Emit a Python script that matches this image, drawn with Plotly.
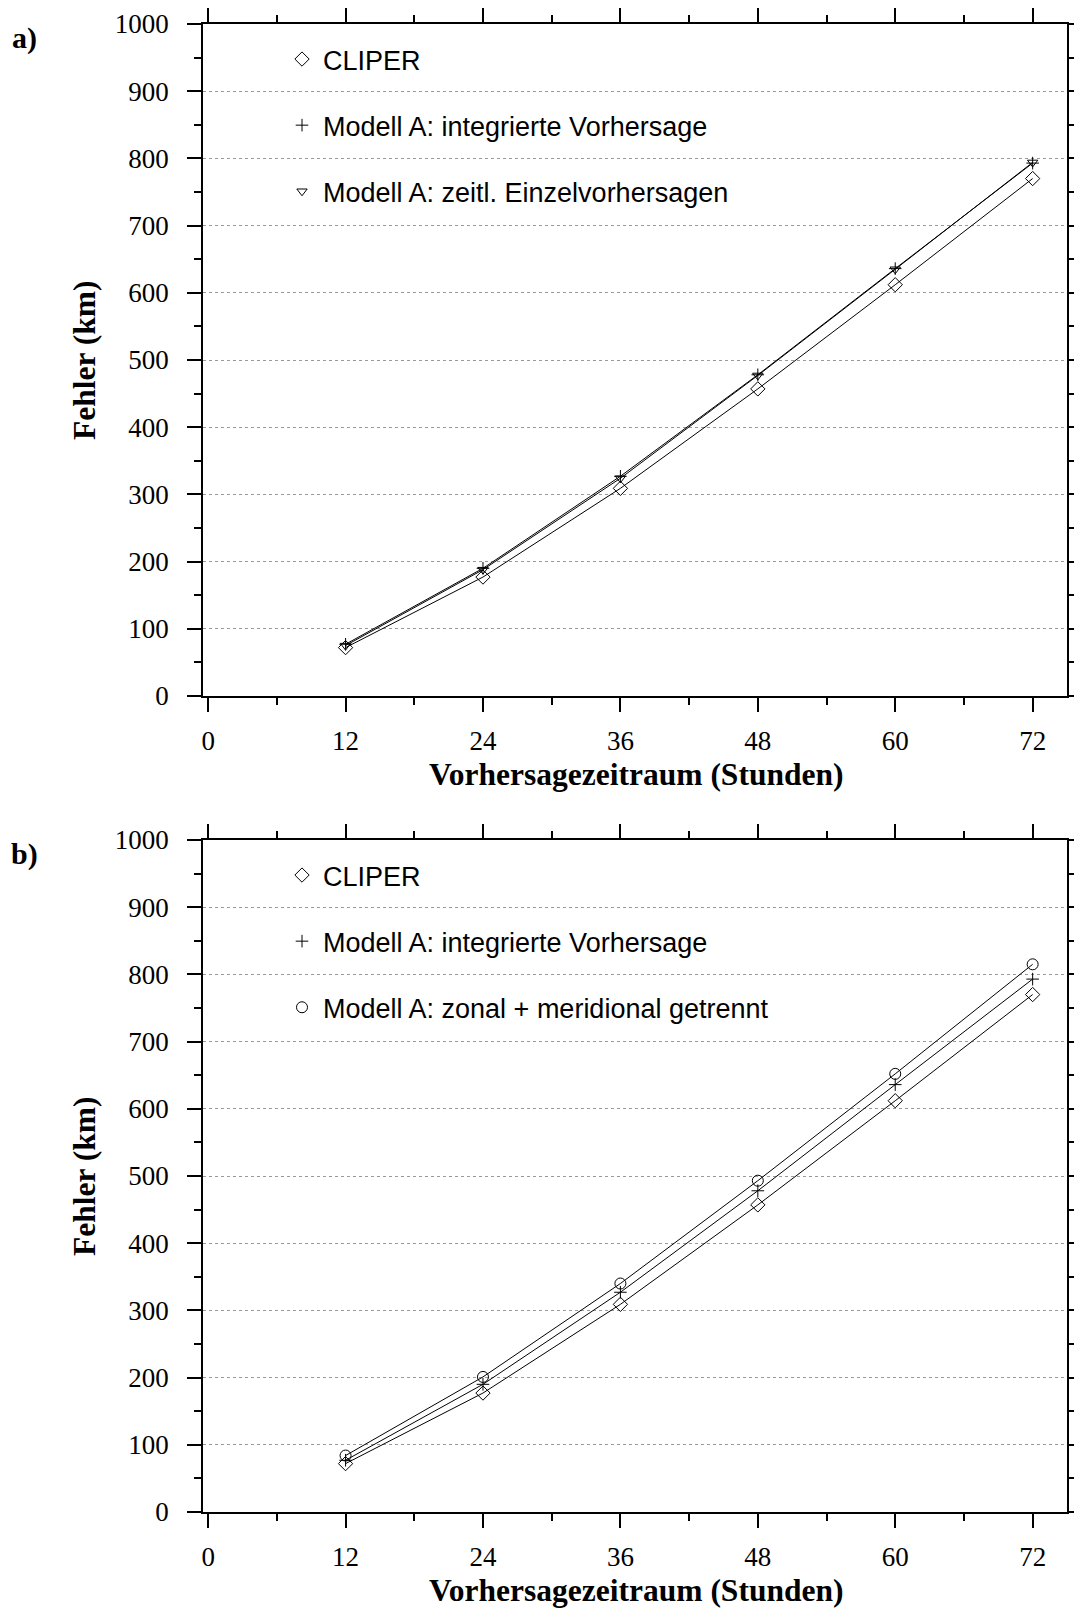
import plotly.graph_objects as go

# Forecast lead times (hours) and mean track errors (km)
hours = [12, 24, 36, 48, 60, 72]
cliper = [72, 177, 309, 457, 612, 770]
modell_a_integriert = [77, 190, 327, 478, 636, 793]
modell_a_zeitlich = [75, 188, 324, 477, 635, 794]
modell_a_getrennt = [84, 201, 340, 493, 652, 815]

x_tick_vals = [0, 12, 24, 36, 48, 60, 72]
y_tick_vals = [0, 100, 200, 300, 400, 500, 600, 700, 800, 900, 1000]

label_cliper = "CLIPER"
label_integriert = "Modell A: integrierte Vorhersage"
label_zeitlich = "Modell A: zeitl. Einzelvorhersagen"
label_getrennt = "Modell A: zonal + meridional getrennt"
x_title = "Vorhersagezeitraum (Stunden)"
y_title = "Fehler (km)"

W, H = 1074, 1609
ML, MR, MT, MB = 203, 7, 24, 97
PW = W - ML - MR
PH = H - MT - MB
SERIF = "Liberation Serif"
SANS = "Liberation Sans"


def px_x(x):
    return (x - ML) / PW


def px_y(y):
    return (H - MB - y) / PH


fig = go.Figure()

symbols = {
    "diamond": dict(symbol="diamond-open", size=11),
    "cross": dict(symbol="cross-thin-open", size=9),
    "tri": dict(symbol="triangle-down-open", size=9),
    "circle": dict(symbol="circle-open", size=11),
}


def add_series(xa, ya, values, sym):
    fig.add_trace(go.Scatter(
        x=hours, y=values, xaxis=xa, yaxis=ya, mode="lines+markers",
        line=dict(color="black", width=1),
        marker=dict(color="black", line=dict(color="black", width=1), **symbols[sym]),
        showlegend=False, hoverinfo="x+y",
    ))


def add_key(name, sym, legend, group):
    fig.add_trace(go.Scatter(
        x=[None], y=[None], mode="markers", name=name,
        marker=dict(color="black", line=dict(color="black", width=1), **symbols[sym]),
        legend=legend, legendgroup=group, showlegend=True,
    ))


# panel a
add_series("x", "y", cliper, "diamond")
add_series("x", "y", modell_a_integriert, "cross")
add_series("x", "y", modell_a_zeitlich, "tri")
# panel b
add_series("x2", "y2", cliper, "diamond")
add_series("x2", "y2", modell_a_integriert, "cross")
add_series("x2", "y2", modell_a_getrennt, "circle")

add_key(label_cliper, "diamond", "legend", "a1")
add_key(label_integriert, "cross", "legend", "a2")
add_key(label_zeitlich, "tri", "legend", "a3")
add_key(label_cliper, "diamond", "legend2", "b1")
add_key(label_integriert, "cross", "legend2", "b2")
add_key(label_getrennt, "circle", "legend2", "b3")

xaxis_style = dict(
    range=[-0.45, 75], tickvals=x_tick_vals, showgrid=False, zeroline=False,
    showline=True, linecolor="black", linewidth=1.5, mirror="ticks",
    ticks="outside", ticklen=14, tickwidth=1.5, tickcolor="black",
    minor=dict(dtick=6, tick0=0, ticks="outside", ticklen=7, tickwidth=1.5,
               tickcolor="black", showgrid=False),
    tickfont=dict(family=SERIF, size=27, color="black"),
    ticklabelstandoff=6, automargin=False,
)
yaxis_style = dict(
    range=[0, 1000], tickvals=y_tick_vals, zeroline=False,
    showgrid=True, gridcolor="#9a9a9a", griddash="dot", gridwidth=1,
    showline=True, linecolor="black", linewidth=1.5, mirror="ticks",
    ticks="outside", ticklen=14, tickwidth=2, tickcolor="black",
    minor=dict(dtick=50, tick0=0, ticks="outside", ticklen=7, tickwidth=1.5,
               tickcolor="black", showgrid=False),
    tickfont=dict(family=SERIF, size=27, color="black"),
    ticklabelstandoff=13, automargin=False,
)

legend_common = dict(
    xanchor="left", yanchor="top", bgcolor="rgba(0,0,0,0)",
    font=dict(family=SANS, size=27, color="black"),
    tracegroupgap=28, itemwidth=32, itemclick=False, itemdoubleclick=False,
)

fig.update_layout(
    width=W, height=H, autosize=False,
    margin=dict(l=ML, r=MR, t=MT, b=MB, pad=0, autoexpand=False),
    paper_bgcolor="white", plot_bgcolor="white",
    xaxis=dict(domain=[0, 1], anchor="y", **xaxis_style),
    yaxis=dict(domain=[px_y(696), 1], anchor="x", **yaxis_style),
    xaxis2=dict(domain=[0, 1], anchor="y2", **xaxis_style),
    yaxis2=dict(domain=[0, px_y(840)], anchor="x2", **yaxis_style),
    legend=dict(x=px_x(281), y=px_y(35), **legend_common),
    legend2=dict(x=px_x(281), y=px_y(851), **legend_common),
    showlegend=True,
)

annotations = []
for dy in (0, 816):
    annotations.append(dict(
        text="<b>" + x_title + "</b>", x=px_x(636), y=px_y(775 + dy),
        xref="paper", yref="paper", xanchor="center", yanchor="middle",
        showarrow=False, font=dict(family=SERIF, size=31.5, color="black"),
    ))
    annotations.append(dict(
        text="<b>" + y_title + "</b>", x=px_x(84), y=px_y(360 + dy),
        xref="paper", yref="paper", xanchor="center", yanchor="middle",
        textangle=-90, showarrow=False,
        font=dict(family=SERIF, size=31.5, color="black"),
    ))
for label, ypos in (("a)", 38), ("b)", 854)):
    annotations.append(dict(
        text="<b>" + label + "</b>", x=px_x(24), y=px_y(ypos),
        xref="paper", yref="paper", xanchor="center", yanchor="middle",
        showarrow=False, font=dict(family=SERIF, size=30, color="black"),
    ))
fig.update_layout(annotations=annotations)

fig.write_html("out.html")
